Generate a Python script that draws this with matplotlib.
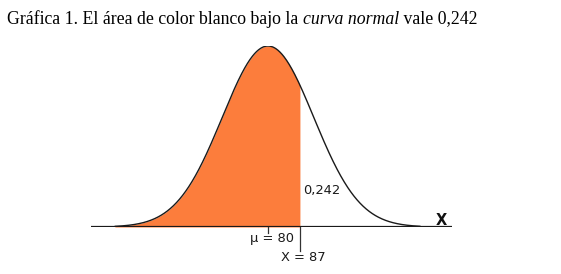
import numpy as np
import matplotlib
matplotlib.use("Agg")
import matplotlib.pyplot as plt

# data
mu = 80
sigma = 10
x_obs = 87
area_label = "0,242"
title_parts = ["Gráfica 1. El área de color blanco bajo la ", "curva normal", " vale 0,242"]

x = np.linspace(46.5, 113.3, 600)
pdf = np.exp(-0.5 * ((x - mu) / sigma) ** 2) / (sigma * np.sqrt(2 * np.pi))

W, H = 561, 274
fig = plt.figure(figsize=(W / 100, H / 100), dpi=100)

# axes placed so the x axis sits at pixel row 227 and the peak at row 46
ax = fig.add_axes([91 / W, (H - 227) / H, (452 - 91) / W, (227 - 46) / H])
ax.set_xlim(41.28, 120.25)
ax.set_ylim(0, pdf.max())
ax.axis("off")

mask = x <= x_obs
ax.fill_between(x[mask], 0, pdf[mask], color="#fc7d3c", lw=0)
ax.plot(x, pdf, color="#1a1a1a", lw=1.0, solid_capstyle="round")
ax.axhline(0, color="#1a1a1a", lw=1.6)

# tick marks below axis
ax.axvline(mu, ymin=-0.035, ymax=0, color="#333333", lw=0.9, clip_on=False)
ax.axvline(x_obs, ymin=-0.13, ymax=0, color="#333333", lw=0.9, clip_on=False)

lab = dict(fontsize=9.4, family="DejaVu Sans", color="#1a1a1a")
ax.text(mu + 5.6, -0.0026, "μ = 80", ha="right", va="center", **lab)
ax.text(x_obs + 0.8, -0.0068, "X = 87", ha="center", va="center", **lab)
ax.text(x_obs + 0.7, 0.0081, area_label, ha="left", va="center", **lab)
ax.text(118.0, 0.0015, "X", ha="center", va="center", fontsize=10.5,
        fontweight="bold", family="DejaVu Sans", color="#111111")

# title with italic part
ty = 1 - 19 / H
t = fig.text(7 / W, ty, title_parts[0], ha="left", va="center",
             fontsize=12.8, family="Liberation Serif")
fig.canvas.draw()
bb = t.get_window_extent()
t2 = fig.text(bb.x1 / W, ty, title_parts[1], ha="left", va="center",
              fontsize=12.8, family="Liberation Serif", style="italic")
fig.canvas.draw()
bb2 = t2.get_window_extent()
fig.text(bb2.x1 / W, ty, title_parts[2], ha="left", va="center",
         fontsize=12.8, family="Liberation Serif")

fig.savefig("out.png", dpi=100)
